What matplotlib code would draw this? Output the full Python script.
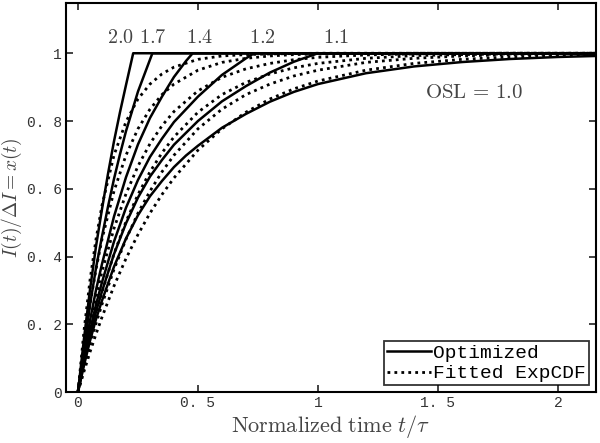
import matplotlib
matplotlib.use("Agg")
import matplotlib.pyplot as plt

plt.rcParams['mathtext.fontset'] = 'cm'
plt.rcParams['font.family'] = 'serif'
plt.rcParams['font.serif'] = ['DejaVu Serif']

# Optimized curves (solid), one per OSL value
t_opt_20 = [0, 0.025, 0.05, 0.075, 0.1, 0.125, 0.15, 0.175, 0.2, 0.23, 2.16]
x_opt_20 = [0, 0.158, 0.302, 0.43, 0.54, 0.644, 0.74, 0.826, 0.906, 1.0, 1.0]

t_opt_17 = [0, 0.025, 0.05, 0.075, 0.1, 0.125, 0.15, 0.175, 0.2, 0.25, 0.31, 2.16]
x_opt_17 = [0, 0.134, 0.257, 0.366, 0.459, 0.547, 0.629, 0.702, 0.770, 0.887, 1.0, 1.0]

t_opt_14 = [0, 0.025, 0.05, 0.075, 0.1, 0.15, 0.2, 0.25, 0.3, 0.35, 0.4, 0.45, 0.478, 2.16]
x_opt_14 = [0, 0.111, 0.211, 0.301, 0.378, 0.518, 0.634, 0.731, 0.809, 0.872, 0.930, 0.977, 1.0, 1.0]

t_opt_12 = [0, 0.025, 0.05, 0.075, 0.1, 0.15, 0.2, 0.25, 0.3, 0.35, 0.4, 0.5, 0.6, 0.7, 0.734, 2.16]
x_opt_12 = [0, 0.095, 0.181, 0.258, 0.324, 0.444, 0.544, 0.626, 0.694, 0.748, 0.797, 0.872,
            0.936, 0.985, 1.0, 1.0]

t_opt_11 = [0, 0.025, 0.05, 0.075, 0.1, 0.15, 0.2, 0.25, 0.3, 0.35, 0.4, 0.5, 0.6, 0.7, 0.8, 0.9,
            1.0, 2.16]
x_opt_11 = [0, 0.087, 0.166, 0.237, 0.297, 0.407, 0.498, 0.574, 0.636, 0.685, 0.730, 0.800,
            0.858, 0.903, 0.943, 0.975, 1.0, 1.0]

t_opt_10 = [0, 0.025, 0.05, 0.075, 0.1, 0.15, 0.2, 0.25, 0.3, 0.35, 0.4, 0.45, 0.5, 0.6, 0.7,
            0.8, 0.9, 1.0, 1.2, 1.4, 1.6, 1.8, 2.0, 2.16]
x_opt_10 = [0, 0.079, 0.151, 0.215, 0.270, 0.370, 0.453, 0.522, 0.578, 0.623, 0.664, 0.698,
            0.727, 0.780, 0.821, 0.857, 0.886, 0.909, 0.941, 0.961, 0.974, 0.983, 0.989, 0.992]

# Fitted exponential CDF curves (dotted), common time grid
t_fit = [0, 0.025, 0.05, 0.075, 0.1, 0.15, 0.2, 0.25, 0.3, 0.35, 0.4, 0.5, 0.6, 0.7, 0.8, 0.9,
         1.0, 1.2, 1.4, 1.6, 1.8, 2.0, 2.16]
x_fit_20 = [0, 0.181, 0.330, 0.451, 0.551, 0.699, 0.798, 0.865, 0.909, 0.939, 0.959, 0.982,
            0.992, 0.996, 0.998, 0.999, 1.0, 1.0, 1.0, 1.0, 1.0, 1.0, 1.0]
x_fit_17 = [0, 0.139, 0.259, 0.362, 0.451, 0.593, 0.699, 0.777, 0.835, 0.878, 0.909, 0.950,
            0.973, 0.985, 0.992, 0.996, 0.998, 0.999, 1.0, 1.0, 1.0, 1.0, 1.0]
x_fit_14 = [0, 0.104, 0.198, 0.281, 0.356, 0.483, 0.585, 0.667, 0.733, 0.786, 0.828, 0.889,
            0.929, 0.954, 0.970, 0.981, 0.988, 0.995, 0.998, 0.999, 1.0, 1.0, 1.0]
x_fit_12 = [0, 0.084, 0.161, 0.231, 0.295, 0.408, 0.503, 0.583, 0.650, 0.706, 0.753, 0.826,
            0.878, 0.914, 0.939, 0.957, 0.970, 0.985, 0.993, 0.996, 0.998, 0.999, 1.0]
x_fit_11 = [0, 0.072, 0.139, 0.202, 0.259, 0.362, 0.451, 0.528, 0.593, 0.650, 0.699, 0.777,
            0.835, 0.878, 0.909, 0.933, 0.950, 0.973, 0.985, 0.992, 0.996, 0.998, 0.999]
x_fit_10 = [0, 0.061, 0.118, 0.171, 0.221, 0.313, 0.394, 0.465, 0.528, 0.583, 0.632, 0.714,
            0.777, 0.826, 0.865, 0.895, 0.918, 0.950, 0.970, 0.982, 0.989, 0.993, 0.996]

osl_labels = ["2.0", "1.7", "1.4", "1.2", "1.1"]
osl_label_t = [0.175, 0.31, 0.505, 0.77, 1.075]


def main():
    fig = plt.figure(figsize=(6.0, 4.43), dpi=100)
    ax = fig.add_axes([0.11, 0.115, 0.883, 0.878])

    opt = [(t_opt_20, x_opt_20), (t_opt_17, x_opt_17), (t_opt_14, x_opt_14),
           (t_opt_12, x_opt_12), (t_opt_11, x_opt_11), (t_opt_10, x_opt_10)]
    fits = [x_fit_20, x_fit_17, x_fit_14, x_fit_12, x_fit_11, x_fit_10]

    for i, (t, x) in enumerate(opt):
        ax.plot(t, x, color='black', lw=1.8, ls='-',
                label='Optimized' if i == 0 else None)
    for i, x in enumerate(fits):
        ax.plot(t_fit, x, color='black', lw=2.0, ls=(0, (1, 1.5)),
                label='Fitted ExpCDF' if i == 0 else None)

    for lab, tl in zip(osl_labels, osl_label_t):
        ax.text(tl, 1.045, r'$\mathrm{' + lab + '}$', ha='center', va='center',
                fontsize=14.5, color='#444444')
    ax.text(1.65, 0.885, r'$\mathrm{OSL}\,=\,1.0$', ha='center', va='center',
            fontsize=15, color='#444444')

    ax.set_xlim(-0.05, 2.158)
    ax.set_ylim(0, 1.148)
    ax.set_xticks([0, 0.5, 1, 1.5, 2])
    ax.set_xticklabels(['0', '0. 5', '1', '1. 5', '2'])
    ax.set_yticks([0, 0.2, 0.4, 0.6, 0.8, 1])
    ax.set_yticklabels(['0', '0. 2', '0. 4', '0. 6', '0. 8', '1'])
    ax.tick_params(direction='in', top=True, right=True, length=5, width=1.2,
                   labelsize=10.5, pad=3, colors='#222222')
    for lbl in ax.get_xticklabels() + ax.get_yticklabels():
        lbl.set_family('Liberation Mono')
        lbl.set_color('#333333')
    for sp in ax.spines.values():
        sp.set_linewidth(1.5)

    ax.set_xlabel(r'$\mathrm{Normalized\ time}\ t/\tau$', fontsize=16, labelpad=2,
                  color='#444444')
    ax.set_ylabel(r'$I(t)/\Delta I = x(t)$', fontsize=14, color='#444444')
    ax.yaxis.set_label_coords(-0.08, 0.5)

    leg = ax.legend(loc='lower right', prop={'family': 'Liberation Mono', 'size': 14},
                    frameon=True, fancybox=False, borderpad=0.15, handlelength=2.3,
                    handletextpad=0.1, borderaxespad=0.35, labelspacing=0.15)
    leg.get_frame().set_edgecolor('black')
    leg.get_frame().set_linewidth(1.3)

    fig.savefig('out.png', dpi=100)


if __name__ == "__main__":
    main()
